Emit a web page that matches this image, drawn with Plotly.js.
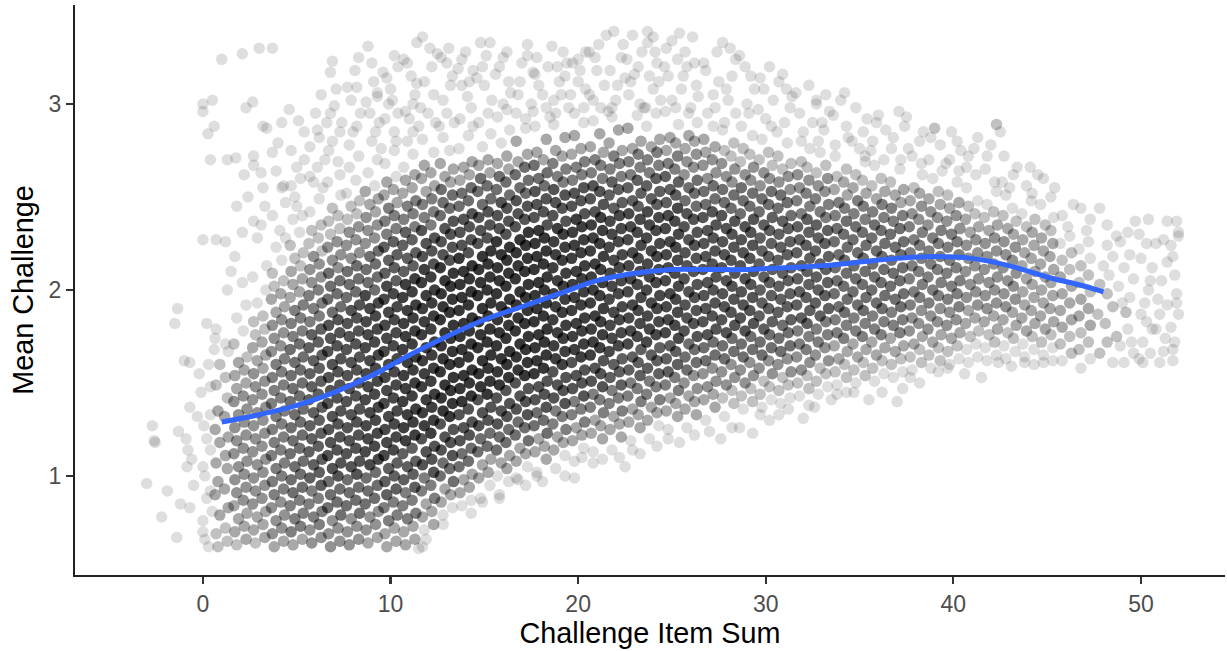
<!DOCTYPE html>
<html>
<head>
<meta charset="utf-8">
<script src="https://cdn.plot.ly/plotly-3.0.1.min.js"></script>
<style>
  html, body { margin: 0; padding: 0; background: #ffffff; }
  #chart { width: 1227px; height: 651px; }
</style>
</head>
<body>
<div id="chart"></div>
<script>
// Observations grouped by item-sum column. sumN = item sum, meanN = mean challenge,
// hitsN = how many respondents sit on top of each other at that spot.

const sumLeft = [-3.0,-2.7,-2.6,-2.55,-2.2,-1.9,-1.4,-1.3,-1.2,-0.9,-0.8,-0.85,-0.7,-0.5,-0.7,-1.35,-1.5,-1.0,-0.6,-0.7];
const meanLeft = [0.96,1.27,1.19,1.18,0.78,0.92,0.67,1.24,0.85,1.20,1.14,1.05,0.83,0.95,1.37,1.90,1.82,1.62,1.09,1.61];
const hitsLeft = [1,1,1,1,1,1,1,1,1,1,1,1,1,1,1,1,1,1,1,1];

const sum0 = [0.05,0.4,0.4,0.0,0.1,0.4,0.0,0.0,0.5,-0.3,0.0,0.0,0.5,0.27,0.6,0.4,0.0,0.3,0.2,-0.2,0.3,0.1,-0.1,0.2,0.4,0.2];
const mean0 = [1.27,1.33,1.14,1.05,1.00,0.92,0.76,0.70,0.81,1.32,3.00,2.96,3.02,2.84,2.88,2.70,2.27,1.60,1.82,1.55,0.62,0.66,1.45,1.20,1.48,0.88];
const hits0 = [1,1,1,1,1,1,1,1,1,1,1,1,1,1,1,1,1,1,1,1,1,1,1,1,1,1];

const sum1 = [0.8,1.3,0.7,1.2,0.9,1.35,0.65,1.15,0.8,1.3,0.7,1.2,0.9,1.35,0.65,1.15,0.8,1.3,0.7,1.2,0.9,1.35,0.65, 1.0,1.3,0.7,1.2,1.5,1.3,0.7,1.2,0.6];
const mean1 = [0.62,0.65,0.69,0.72,0.79,0.83,0.90,0.93,0.97,1.04,1.07,1.11,1.18,1.21,1.25,1.32,1.35,1.42,1.49,1.53,1.60,1.67,1.74, 3.24,2.70,2.27,2.26,2.10,2.00,1.79,1.71,1.68];
const hits1 = [2,2,2,2,3,3,3,3,3,3,3,3,3,3,3,3,3,2,2,2,2,1,1, 1,1,1,1,1,1,1,1,1];

const sum2 = [1.8,2.3,1.7,2.2,1.9,2.35,1.65,2.15,1.8,2.3,1.7,2.2,1.9,2.35,1.65,2.15,1.8,2.3,1.7,2.2,1.9,2.35,1.65,2.15,1.8,2.3,1.7,2.2,1.9,2.35,1.65,2.15,1.8,2.3, 2.1,2.3,1.75,2.1,2.1,2.4,1.8,1.7,2.2];
const mean2 = [0.63,0.66,0.70,0.73,0.77,0.80,0.84,0.87,0.91,0.94,0.98,1.01,1.05,1.08,1.12,1.15,1.19,1.22,1.26,1.29,1.33,1.36,1.40,1.43,1.47,1.50,1.54,1.57,1.61,1.64,1.71,1.78,1.85,1.92, 3.27,2.98,2.71,2.31,2.04,2.50,2.45,2.18,2.62];
const hits2 = [2,3,3,3,3,3,3,4,4,4,4,4,4,4,4,4,4,4,4,4,4,4,4,4,3,3,3,3,3,2,2,1,1,1, 1,1,1,1,1,1,1,1,1];

const sum3 = [2.8,3.3,2.7,3.2,2.9,3.35,2.65,3.15,2.8,3.3,2.7,3.2,2.9,3.35,2.65,3.15,2.8,3.3,2.7,3.2,2.9,3.35,2.65,3.15,2.8,3.3,2.7,3.2,2.9,3.35,2.65,3.15,2.8,3.3,2.7,3.2,2.9,3.35,2.65, 3.0,3.1,3.2,2.65,2.7,2.7,3.2,3.4,2.9,2.7,3.1,3.4,3.3];
const mean3 = [0.64,0.67,0.71,0.74,0.78,0.81,0.85,0.88,0.92,0.95,0.99,1.02,1.06,1.09,1.13,1.16,1.20,1.23,1.27,1.30,1.34,1.37,1.41,1.44,1.48,1.51,1.55,1.58,1.62,1.65,1.69,1.72,1.76,1.79,1.83,1.86,1.93,2.00,2.07, 3.30,2.63,2.55,3.01,2.72,2.67,2.88,2.87,2.28,2.37,2.35,2.13,2.45];
const hits3 = [2,3,3,3,3,3,4,4,4,4,4,4,4,4,4,4,4,4,4,4,4,4,4,4,4,4,4,3,3,3,3,3,2,2,2,2,1,1,1, 1,1,1,1,1,1,1,1,1,1,1,1,1];

const sum4 = [3.8,4.3,3.7,4.2,3.9,4.35,3.65,4.15,3.8,4.3,3.7,4.2,3.9,4.35,3.65,4.15,3.8,4.3,3.7,4.2,3.9,4.35,3.65,4.15,3.8,4.3,3.7,4.2,3.9,4.35,3.65,4.15,3.8,4.3,3.7,4.2,3.9,4.35,3.65,4.15,3.8,4.3,3.7,4.2,3.9, 3.7,3.7,3.9,4.0,4.2,4.6,4.4,4.3,4.1,3.7,4.4,4.2];
const mean4 = [0.62,0.65,0.69,0.72,0.76,0.79,0.83,0.86,0.90,0.93,0.97,1.00,1.04,1.07,1.11,1.14,1.18,1.21,1.25,1.28,1.32,1.35,1.39,1.42,1.46,1.49,1.53,1.56,1.60,1.63,1.67,1.70,1.74,1.77,1.81,1.84,1.88,1.91,1.95,1.98,2.02,2.05,2.09,2.16,2.23, 3.30,2.74,2.64,2.79,2.55,2.97,2.47,2.56,2.32,2.40,2.28,2.90];
const hits4 = [3,3,4,4,4,4,4,4,5,5,5,5,5,5,5,5,5,5,5,5,5,5,5,5,5,5,5,5,5,5,4,4,4,4,4,4,3,3,3,3,2,2,2,1,1, 1,1,1,1,1,1,1,1,1,1,1,1];

const sum5 = [4.8,5.3,4.7,5.2,4.9,5.35,4.65,5.15,4.8,5.3,4.7,5.2,4.9,5.35,4.65,5.15,4.8,5.3,4.7,5.2,4.9,5.35,4.65,5.15,4.8,5.3,4.7,5.2,4.9,5.35,4.65,5.15,4.8,5.3,4.7,5.2,4.9,5.35,4.65,5.15,4.8,5.3,4.7,5.2,4.9,5.35,4.65,5.15,4.8, 5.1,5.2,4.7,4.9,5.4,5.0,5.4,5.0,4.7,5.3];
const mean5 = [0.63,0.66,0.70,0.73,0.77,0.80,0.84,0.87,0.91,0.94,0.98,1.01,1.05,1.08,1.12,1.15,1.19,1.22,1.26,1.29,1.33,1.36,1.40,1.43,1.47,1.50,1.54,1.57,1.61,1.64,1.68,1.71,1.75,1.78,1.82,1.85,1.89,1.92,1.96,1.99,2.03,2.06,2.10,2.13,2.17,2.20,2.24,2.31,2.38, 2.91,2.60,2.75,2.50,2.70,2.45,2.85,2.66,2.56,2.40];
const hits5 = [3,3,5,5,5,5,5,5,6,6,6,6,6,6,6,6,6,6,6,6,6,6,6,6,6,6,6,6,6,6,6,6,5,5,5,5,5,5,3,3,3,3,3,2,2,2,2,1,1, 1,1,1,1,1,1,1,1,1,1];

const sum6 = [5.8,6.3,5.7,6.2,5.9,6.35,5.65,6.15,5.8,6.3,5.7,6.2,5.9,6.35,5.65,6.15,5.8,6.3,5.7,6.2,5.9,6.35,5.65,6.15,5.8,6.3,5.7,6.2,5.9,6.35,5.65,6.15,5.8,6.3,5.7,6.2,5.9,6.35,5.65,6.15,5.8,6.3,5.7,6.2,5.9,6.35,5.65,6.15,5.8,6.3,5.7,6.2, 5.7,6.1,6.6,5.7,6.1,6.0,6.4,6.3,6.5,5.9,6.2];
const mean6 = [0.64,0.67,0.71,0.74,0.78,0.81,0.85,0.88,0.92,0.95,0.99,1.02,1.06,1.09,1.13,1.16,1.20,1.23,1.27,1.30,1.34,1.37,1.41,1.44,1.48,1.51,1.55,1.58,1.62,1.65,1.69,1.72,1.76,1.79,1.83,1.86,1.90,1.93,1.97,2.00,2.04,2.07,2.11,2.14,2.18,2.21,2.25,2.28,2.32,2.35,2.42,2.49, 2.77,2.86,2.90,2.61,2.66,2.95,2.55,3.05,2.70,2.58,2.82];
const hits6 = [4,4,4,5,5,5,5,5,5,7,7,7,7,7,7,7,7,7,7,7,7,7,7,7,7,7,7,7,7,7,7,7,7,7,5,5,5,5,5,5,4,4,4,4,4,2,2,2,2,2,1,1, 1,1,1,1,1,1,1,1,1,1,1];

const sum7 = [6.8,7.3,6.7,7.2,6.9,7.35,6.65,7.15,6.8,7.3,6.7,7.2,6.9,7.35,6.65,7.15,6.8,7.3,6.7,7.2,6.9,7.35,6.65,7.15,6.8,7.3,6.7,7.2,6.9,7.35,6.65,7.15,6.8,7.3,6.7,7.2,6.9,7.35,6.65,7.15,6.8,7.3,6.7,7.2,6.9,7.35,6.65,7.15,6.8,7.3,6.7,7.2,6.9,7.35,6.65, 6.9,6.8,7.0,7.2,6.9,7.4,7.3,6.7,7.1,6.8,7.3];
const mean7 = [0.62,0.65,0.69,0.72,0.76,0.79,0.83,0.86,0.90,0.93,0.97,1.00,1.04,1.07,1.11,1.14,1.18,1.21,1.25,1.28,1.32,1.35,1.39,1.42,1.46,1.49,1.53,1.56,1.60,1.63,1.67,1.70,1.74,1.77,1.81,1.84,1.88,1.91,1.95,1.98,2.02,2.05,2.09,2.12,2.16,2.19,2.23,2.26,2.30,2.33,2.37,2.40,2.44,2.51,2.58, 3.23,3.17,2.99,2.69,2.80,2.90,2.62,2.75,3.08,2.95,2.85];
const hits7 = [4,4,4,4,4,6,6,6,6,6,6,8,8,8,8,8,8,8,8,8,8,8,8,8,8,8,8,8,8,8,8,8,8,8,8,8,6,6,6,6,6,6,6,4,4,4,4,4,2,2,2,2,2,1,1, 1,1,1,1,1,1,1,1,1,1,1];

const sum8 = [7.8,8.3,7.7,8.2,7.9,8.35,7.65,8.15,7.8,8.3,7.7,8.2,7.9,8.35,7.65,8.15,7.8,8.3,7.7,8.2,7.9,8.35,7.65,8.15,7.8,8.3,7.7,8.2,7.9,8.35,7.65,8.15,7.8,8.3,7.7,8.2,7.9,8.35,7.65,8.15,7.8,8.3,7.7,8.2,7.9,8.35,7.65,8.15,7.8,8.3,7.7,8.2,7.9,8.35,7.65,8.15,7.8, 7.7,8.2,8.0,8.4,7.8,8.1,8.3,7.9,8.2,8.3];
const mean8 = [0.63,0.66,0.70,0.73,0.77,0.80,0.84,0.87,0.91,0.94,0.98,1.01,1.05,1.08,1.12,1.15,1.19,1.22,1.26,1.29,1.33,1.36,1.40,1.43,1.47,1.50,1.54,1.57,1.61,1.64,1.68,1.71,1.75,1.78,1.82,1.85,1.89,1.92,1.96,1.99,2.03,2.06,2.10,2.13,2.17,2.20,2.24,2.27,2.31,2.34,2.38,2.41,2.45,2.48,2.52,2.59,2.66, 3.09,3.09,2.85,2.95,2.78,3.18,2.72,3.02,2.88,3.25];
const hits8 = [4,4,4,4,4,6,6,6,6,6,6,8,8,8,8,8,8,8,8,8,8,8,8,8,8,8,8,8,8,8,8,8,8,8,8,8,8,8,6,6,6,6,6,6,4,4,4,4,4,4,2,2,2,2,1,1,1, 1,1,1,1,1,1,1,1,1,1];

const sum9 = [8.8,9.3,8.7,9.2,8.9,9.35,8.65,9.15,8.8,9.3,8.7,9.2,8.9,9.35,8.65,9.15,8.8,9.3,8.7,9.2,8.9,9.35,8.65,9.15,8.8,9.3,8.7,9.2,8.9,9.35,8.65,9.15,8.8,9.3,8.7,9.2,8.9,9.35,8.65,9.15,8.8,9.3,8.7,9.2,8.9,9.35,8.65,9.15,8.8,9.3,8.7,9.2,8.9,9.35,8.65,9.15,8.8,9.3, 8.8,9.3,9.3,9.6,9.0,9.4,8.7,9.2,8.9,9.1,9.5,9.0];
const mean9 = [0.64,0.67,0.71,0.74,0.78,0.81,0.85,0.88,0.92,0.95,0.99,1.02,1.06,1.09,1.13,1.16,1.20,1.23,1.27,1.30,1.34,1.37,1.41,1.44,1.48,1.51,1.55,1.58,1.62,1.65,1.69,1.72,1.76,1.79,1.83,1.86,1.90,1.93,1.97,2.00,2.04,2.07,2.11,2.14,2.18,2.21,2.25,2.28,2.32,2.35,2.39,2.42,2.46,2.49,2.53,2.56,2.63,2.70, 3.31,3.06,3.04,3.17,2.80,2.90,3.01,2.85,2.95,3.12,2.76,3.22];
const hits9 = [3,3,4,4,4,4,6,6,6,6,6,6,9,9,9,9,9,9,9,9,9,9,9,9,9,9,9,9,9,9,9,9,9,9,9,9,9,9,9,6,6,6,6,6,6,6,4,4,4,4,4,3,3,3,3,1,1,1, 1,1,1,1,1,1,1,1,1,1,1,1];

const sum10 = [9.8,10.3,9.7,10.2,9.9,10.35,9.65,10.15,9.8,10.3,9.7,10.2,9.9,10.35,9.65,10.15,9.8,10.3,9.7,10.2,9.9,10.35,9.65,10.15,9.8,10.3,9.7,10.2,9.9,10.35,9.65,10.15,9.8,10.3,9.7,10.2,9.9,10.35,9.65,10.15,9.8,10.3,9.7,10.2,9.9,10.35,9.65,10.15,9.8,10.3,9.7,10.2,9.9,10.35,9.65,10.15,9.8,10.3,9.7,10.2, 10.0,10.1,10.4,10.2,10.4,9.7,9.8,10.3,9.9,10.2];
const mean10 = [0.62,0.65,0.69,0.72,0.76,0.79,0.83,0.86,0.90,0.93,0.97,1.00,1.04,1.07,1.11,1.14,1.18,1.21,1.25,1.28,1.32,1.35,1.39,1.42,1.46,1.49,1.53,1.56,1.60,1.63,1.67,1.70,1.74,1.77,1.81,1.84,1.88,1.91,1.95,1.98,2.02,2.05,2.09,2.12,2.16,2.19,2.23,2.26,2.30,2.33,2.37,2.40,2.44,2.47,2.51,2.54,2.58,2.61,2.68,2.75, 3.08,3.02,2.95,2.85,3.20,2.92,3.14,2.80,3.00,3.26];
const hits10 = [3,3,3,3,5,5,5,5,7,7,7,7,7,7,9,9,9,9,9,9,9,9,9,9,9,9,9,9,9,9,9,9,9,9,9,9,9,9,9,9,9,7,7,7,7,7,7,7,5,5,5,5,5,3,3,3,3,1,1,1, 1,1,1,1,1,1,1,1,1,1];

const sum11 = [10.8,11.3,10.7,11.2,10.9,11.35,10.65,11.15,10.8,11.3,10.7,11.2,10.9,11.35,10.65,11.15,10.8,11.3,10.7,11.2,10.9,11.35,10.65,11.15,10.8,11.3,10.7,11.2,10.9,11.35,10.65,11.15,10.8,11.3,10.7,11.2,10.9,11.35,10.65,11.15,10.8,11.3,10.7,11.2,10.9,11.35,10.65,11.15,10.8,11.3,10.7,11.2,10.9,11.35,10.65,11.15,10.8,11.3,10.7,11.2,10.9, 11.5,10.7,10.9,11.4,11.4,11.2,11.0,11.2,11.1,10.8,11.3,11.5];
const mean11 = [0.63,0.66,0.70,0.73,0.77,0.80,0.84,0.87,0.91,0.94,0.98,1.01,1.05,1.08,1.12,1.15,1.19,1.22,1.26,1.29,1.33,1.36,1.40,1.43,1.47,1.50,1.54,1.57,1.61,1.64,1.68,1.71,1.75,1.78,1.82,1.85,1.89,1.92,1.96,1.99,2.03,2.06,2.10,2.13,2.17,2.20,2.24,2.27,2.31,2.34,2.38,2.41,2.45,2.48,2.52,2.55,2.59,2.62,2.66,2.73,2.80, 0.61,3.24,3.22,3.33,3.11,3.00,2.92,2.85,3.15,2.96,3.05,2.88];
const hits11 = [3,3,3,3,5,5,5,5,5,7,7,7,7,7,7,7,10,10,10,10,10,10,10,10,10,10,10,10,10,10,10,10,10,10,10,10,10,10,10,10,10,10,7,7,7,7,7,7,7,5,5,5,5,5,3,3,3,3,1,1,1, 1,1,1,1,1,1,1,1,1,1,1,1];

const sum12 = [11.8,12.3,11.7,12.2,11.9,12.35,11.65,12.15,11.8,12.3,11.7,12.2,11.9,12.35,11.65,12.15,11.8,12.3,11.7,12.2,11.9,12.35,11.65,12.15,11.8,12.3,11.7,12.2,11.9,12.35,11.65,12.15,11.8,12.3,11.7,12.2,11.9,12.35,11.65,12.15,11.8,12.3,11.7,12.2,11.9,12.35,11.65,12.15,11.8,12.3,11.7,12.2,11.9,12.35,11.65,12.15,11.8,12.3,11.7, 11.7,12.5,12.2,12.0,12.3,11.9,11.7,11.8,12.4,12.1,11.6];
const mean12 = [0.71,0.74,0.78,0.81,0.85,0.88,0.92,0.95,0.99,1.02,1.06,1.09,1.13,1.16,1.20,1.23,1.27,1.30,1.34,1.37,1.41,1.44,1.48,1.51,1.55,1.58,1.62,1.65,1.69,1.72,1.76,1.79,1.83,1.86,1.90,1.93,1.97,2.00,2.04,2.07,2.11,2.14,2.18,2.21,2.25,2.28,2.32,2.35,2.39,2.42,2.46,2.49,2.53,2.56,2.60,2.63,2.67,2.74,2.81, 3.36,3.27,3.20,2.95,3.05,0.66,0.62,3.12,2.90,3.30,2.98];
const hits12 = [1,3,3,3,3,5,5,5,5,8,8,8,8,8,8,10,10,10,10,10,10,10,10,10,10,10,10,10,10,10,10,10,10,10,10,10,10,10,10,10,10,8,8,8,8,8,8,5,5,5,5,5,3,3,3,3,3,1,1, 1,1,1,1,1,1,1,1,1,1,1];

const sum13 = [12.8,13.3,12.7,13.2,12.9,13.35,12.65,13.15,12.8,13.3,12.7,13.2,12.9,13.35,12.65,13.15,12.8,13.3,12.7,13.2,12.9,13.35,12.65,13.15,12.8,13.3,12.7,13.2,12.9,13.35,12.65,13.15,12.8,13.3,12.7,13.2,12.9,13.35,12.65,13.15,12.8,13.3,12.7,13.2,12.9,13.35,12.65,13.15,12.8,13.3,12.7,13.2,12.9,13.35,12.65,13.15,12.8, 13.6,12.7,13.2,13.0,13.1,12.8,13.4,12.8,13.3,12.6,13.0];
const mean13 = [0.79,0.83,0.86,0.90,0.93,0.97,1.00,1.04,1.07,1.11,1.14,1.18,1.21,1.25,1.28,1.32,1.35,1.39,1.42,1.46,1.49,1.53,1.56,1.60,1.63,1.67,1.70,1.74,1.77,1.81,1.84,1.88,1.91,1.95,1.98,2.02,2.05,2.09,2.12,2.16,2.19,2.23,2.26,2.30,2.33,2.37,2.40,2.44,2.47,2.51,2.54,2.58,2.61,2.65,2.68,2.75,2.82, 3.19,3.25,3.10,2.95,3.30,0.74,2.90,3.02,3.15,2.88,3.22];
const hits13 = [1,1,3,3,3,6,6,6,6,8,8,8,8,8,8,11,11,11,11,11,11,11,11,11,11,11,11,11,11,11,11,11,11,11,11,11,11,11,11,8,8,8,8,8,8,8,6,6,6,6,6,3,3,3,3,1,1, 1,1,1,1,1,1,1,1,1,1,1];

const sum14 = [13.8,14.3,13.7,14.2,13.9,14.35,13.65,14.15,13.8,14.3,13.7,14.2,13.9,14.35,13.65,14.15,13.8,14.3,13.7,14.2,13.9,14.35,13.65,14.15,13.8,14.3,13.7,14.2,13.9,14.35,13.65,14.15,13.8,14.3,13.7,14.2,13.9,14.35,13.65,14.15,13.8,14.3,13.7,14.2,13.9,14.35,13.65,14.15,13.8,14.3,13.7,14.2,13.9,14.35,13.65,14.15, 14.0,13.8,14.3,14.4,14.3,13.7,14.1,13.8,14.4,14.2];
const mean14 = [0.84,0.87,0.91,0.94,0.98,1.01,1.05,1.08,1.12,1.15,1.19,1.22,1.26,1.29,1.33,1.36,1.40,1.43,1.47,1.50,1.54,1.57,1.61,1.64,1.68,1.71,1.75,1.78,1.82,1.85,1.89,1.92,1.96,1.99,2.03,2.06,2.10,2.13,2.17,2.20,2.24,2.27,2.31,2.34,2.38,2.41,2.45,2.48,2.52,2.55,2.59,2.62,2.66,2.69,2.76,2.83, 3.28,3.10,2.98,3.18,0.80,2.92,3.04,3.24,2.88,3.12];
const hits14 = [1,1,3,3,3,3,6,6,6,6,8,8,8,8,8,8,11,11,11,11,11,11,11,11,11,11,11,11,11,11,11,11,11,11,11,11,11,11,11,8,8,8,8,8,8,8,6,6,6,6,3,3,3,3,1,1, 1,1,1,1,1,1,1,1,1,1];

const sum15 = [14.8,15.3,14.7,15.2,14.9,15.35,14.65,15.15,14.8,15.3,14.7,15.2,14.9,15.35,14.65,15.15,14.8,15.3,14.7,15.2,14.9,15.35,14.65,15.15,14.8,15.3,14.7,15.2,14.9,15.35,14.65,15.15,14.8,15.3,14.7,15.2,14.9,15.35,14.65,15.15,14.8,15.3,14.7,15.2,14.9,15.35,14.65,15.15,14.8,15.3,14.7,15.2,14.9,15.35, 14.8,15.3,15.0,15.2,14.9,14.9,15.4,14.7,15.1,14.6];
const mean15 = [0.88,0.95,0.99,1.02,1.06,1.09,1.13,1.16,1.20,1.23,1.27,1.30,1.34,1.37,1.41,1.44,1.48,1.51,1.55,1.58,1.62,1.65,1.69,1.72,1.76,1.79,1.83,1.86,1.90,1.93,1.97,2.00,2.04,2.07,2.11,2.14,2.18,2.21,2.25,2.28,2.32,2.35,2.39,2.42,2.46,2.49,2.53,2.56,2.60,2.63,2.67,2.70,2.77,2.84, 3.33,3.33,3.10,2.95,3.20,0.86,3.02,2.90,3.26,3.14];
const hits15 = [1,1,3,3,3,3,6,6,6,6,8,8,8,8,8,11,11,11,11,11,11,11,11,11,11,11,11,11,11,11,11,11,11,11,11,11,11,11,8,8,8,8,8,8,6,6,6,6,6,3,3,3,1,1, 1,1,1,1,1,1,1,1,1,1];

const sum16 = [15.8,16.3,15.7,16.2,15.9,16.35,15.65,16.15,15.8,16.3,15.7,16.2,15.9,16.35,15.65,16.15,15.8,16.3,15.7,16.2,15.9,16.35,15.65,16.15,15.8,16.3,15.7,16.2,15.9,16.35,15.65,16.15,15.8,16.3,15.7,16.2,15.9,16.35,15.65,16.15,15.8,16.3,15.7,16.2,15.9,16.35,15.65,16.15,15.8,16.3,15.7,16.2,15.9,16.35, 16.2,15.8,16.0,16.3,15.8,15.7,16.4,16.0,16.2,15.6];
const mean16 = [0.90,0.97,1.00,1.04,1.07,1.11,1.14,1.18,1.21,1.25,1.28,1.32,1.35,1.39,1.42,1.46,1.49,1.53,1.56,1.60,1.63,1.67,1.70,1.74,1.77,1.81,1.84,1.88,1.91,1.95,1.98,2.02,2.05,2.09,2.12,2.16,2.19,2.23,2.26,2.30,2.33,2.37,2.40,2.44,2.47,2.51,2.54,2.58,2.61,2.65,2.68,2.72,2.79,2.86, 3.28,3.20,3.00,3.12,0.88,2.93,3.06,3.25,2.97,3.16];
const hits16 = [1,1,1,3,3,3,6,6,6,6,8,8,8,8,8,8,11,11,11,11,11,11,11,11,11,11,11,11,11,11,11,11,11,11,11,11,11,11,11,8,8,8,8,8,8,6,6,6,6,3,3,3,1,1, 1,1,1,1,1,1,1,1,1,1];

const sum17 = [16.8,17.3,16.7,17.2,16.9,17.35,16.65,17.15,16.8,17.3,16.7,17.2,16.9,17.35,16.65,17.15,16.8,17.3,16.7,17.2,16.9,17.35,16.65,17.15,16.8,17.3,16.7,17.2,16.9,17.35,16.65,17.15,16.8,17.3,16.7,17.2,16.9,17.35,16.65,17.15,16.8,17.3,16.7,17.2,16.9,17.35,16.65,17.15,16.8,17.3,16.7,17.2, 17.3,17.3,17.6,16.8,17.2,16.7,17.2,17.5,16.9,16.7,17.0];
const mean17 = [0.98,1.05,1.08,1.12,1.15,1.19,1.22,1.26,1.29,1.33,1.36,1.40,1.43,1.47,1.50,1.54,1.57,1.61,1.64,1.68,1.71,1.75,1.78,1.82,1.85,1.89,1.92,1.96,1.99,2.03,2.06,2.10,2.13,2.17,2.20,2.24,2.27,2.31,2.34,2.38,2.41,2.45,2.48,2.52,2.55,2.59,2.62,2.66,2.69,2.73,2.80,2.87, 3.32,3.26,3.17,3.05,2.92,0.99,0.95,3.00,3.12,2.95,3.22];
const hits17 = [1,1,3,3,3,6,6,6,6,8,8,8,8,8,8,11,11,11,11,11,11,11,11,11,11,11,11,11,11,11,11,11,11,11,11,11,11,11,8,8,8,8,8,6,6,6,6,6,3,3,3,1, 1,1,1,1,1,1,1,1,1,1,1];

const sum18 = [17.8,18.3,17.7,18.2,17.9,18.35,17.65,18.15,17.8,18.3,17.7,18.2,17.9,18.35,17.65,18.15,17.8,18.3,17.7,18.2,17.9,18.35,17.65,18.15,17.8,18.3,17.7,18.2,17.9,18.35,17.65,18.15,17.8,18.3,17.7,18.2,17.9,18.35,17.65,18.15,17.8,18.3,17.7,18.2,17.9,18.35,17.65,18.15,17.8,18.3,17.7, 18.6,18.4,17.9,18.3,17.8,18.1,17.8,18.5,18.1,17.7,17.6];
const mean18 = [1.02,1.09,1.13,1.16,1.20,1.23,1.27,1.30,1.34,1.37,1.41,1.44,1.48,1.51,1.55,1.58,1.62,1.65,1.69,1.72,1.76,1.79,1.83,1.86,1.90,1.93,1.97,2.00,2.04,2.07,2.11,2.14,2.18,2.21,2.25,2.28,2.32,2.35,2.39,2.42,2.46,2.49,2.53,2.56,2.60,2.63,2.67,2.70,2.74,2.81,2.88, 3.31,3.20,3.10,2.98,3.25,0.97,1.00,2.93,3.05,3.16,2.96];
const hits18 = [1,3,3,3,3,6,6,6,6,8,8,8,8,8,11,11,11,11,11,11,11,11,11,11,11,11,11,11,11,11,11,11,11,11,11,11,11,8,8,8,8,8,8,6,6,6,6,3,3,3,1, 1,1,1,1,1,1,1,1,1,1,1];

const sum19 = [18.8,19.3,18.7,19.2,18.9,19.35,18.65,19.15,18.8,19.3,18.7,19.2,18.9,19.35,18.65,19.15,18.8,19.3,18.7,19.2,18.9,19.35,18.65,19.15,18.8,19.3,18.7,19.2,18.9,19.35,18.65,19.15,18.8,19.3,18.7,19.2,18.9,19.35,18.65,19.15,18.8,19.3,18.7,19.2,18.9,19.35,18.65,19.15,18.8,19.3,18.7, 18.9,19.4,19.1,18.8,19.3,19.0,19.5,19.2,18.7,19.3];
const mean19 = [1.04,1.11,1.14,1.18,1.21,1.25,1.28,1.32,1.35,1.39,1.42,1.46,1.49,1.53,1.56,1.60,1.63,1.67,1.70,1.74,1.77,1.81,1.84,1.88,1.91,1.95,1.98,2.02,2.05,2.09,2.12,2.16,2.19,2.23,2.26,2.30,2.33,2.37,2.40,2.44,2.47,2.51,2.54,2.58,2.61,2.65,2.68,2.72,2.75,2.82,2.89, 3.20,3.22,3.05,2.95,1.00,3.12,2.98,3.28,3.02,3.15];
const hits19 = [1,1,3,3,3,5,5,5,5,8,8,8,8,8,8,10,10,10,10,10,10,10,10,10,10,10,10,10,10,10,10,10,10,10,10,10,10,8,8,8,8,8,8,5,5,5,5,3,3,3,1, 1,1,1,1,1,1,1,1,1,1];

const sum20 = [19.8,20.3,19.7,20.2,19.9,20.35,19.65,20.15,19.8,20.3,19.7,20.2,19.9,20.35,19.65,20.15,19.8,20.3,19.7,20.2,19.9,20.35,19.65,20.15,19.8,20.3,19.7,20.2,19.9,20.35,19.65,20.15,19.8,20.3,19.7,20.2,19.9,20.35,19.65,20.15,19.8,20.3,19.7,20.2,19.9,20.35,19.65,20.15,19.8,20.3, 19.7,20.4,20.0,20.3,19.8,20.2,19.6,20.1,19.8,20.0,20.4];
const mean20 = [1.08,1.15,1.19,1.22,1.26,1.29,1.33,1.36,1.40,1.43,1.47,1.50,1.54,1.57,1.61,1.64,1.68,1.71,1.75,1.78,1.82,1.85,1.89,1.92,1.96,1.99,2.03,2.06,2.10,2.13,2.17,2.20,2.24,2.27,2.31,2.34,2.38,2.41,2.45,2.48,2.52,2.55,2.59,2.62,2.66,2.69,2.73,2.76,2.83,2.90, 3.22,3.28,3.12,2.98,0.99,1.10,3.05,3.18,2.95,3.24,3.08];
const hits20 = [1,1,3,3,3,5,5,5,5,8,8,8,8,8,8,10,10,10,10,10,10,10,10,10,10,10,10,10,10,10,10,10,10,10,10,10,10,8,8,8,8,8,5,5,5,5,3,3,3,1, 1,1,1,1,1,1,1,1,1,1,1];

const sum21 = [20.8,21.3,20.7,21.2,20.9,21.35,20.65,21.15,20.8,21.3,20.7,21.2,20.9,21.35,20.65,21.15,20.8,21.3,20.7,21.2,20.9,21.35,20.65,21.15,20.8,21.3,20.7,21.2,20.9,21.35,20.65,21.15,20.8,21.3,20.7,21.2,20.9,21.35,20.65,21.15,20.8,21.3,20.7,21.2,20.9,21.35,20.65,21.15,20.8, 20.6,21.5,21.0,20.8,21.3,20.8,21.4,20.9,21.2,21.1,20.6];
const mean21 = [1.13,1.20,1.23,1.27,1.30,1.34,1.37,1.41,1.44,1.48,1.51,1.55,1.58,1.62,1.65,1.69,1.72,1.76,1.79,1.83,1.86,1.90,1.93,1.97,2.00,2.04,2.07,2.11,2.14,2.18,2.21,2.25,2.28,2.32,2.35,2.39,2.42,2.46,2.49,2.53,2.56,2.60,2.63,2.67,2.70,2.74,2.77,2.84,2.91, 3.28,3.37,3.18,3.02,1.09,1.07,3.10,3.25,2.98,3.32,3.05];
const hits21 = [1,3,3,3,3,5,5,5,5,8,8,8,8,8,10,10,10,10,10,10,10,10,10,10,10,10,10,10,10,10,10,10,10,10,10,10,8,8,8,8,8,5,5,5,5,3,3,3,1, 1,1,1,1,1,1,1,1,1,1,1];

const sum22 = [21.8,22.3,21.7,22.2,21.9,22.35,21.65,22.15,21.8,22.3,21.7,22.2,21.9,22.35,21.65,22.15,21.8,22.3,21.7,22.2,21.9,22.35,21.65,22.15,21.8,22.3,21.7,22.2,21.9,22.35,21.65,22.15,21.8,22.3,21.7,22.2,21.9,22.35,21.65,22.15,21.8,22.3,21.7,22.2,21.9,22.35,21.65,22.15,21.8, 21.9,22.3,22.1,21.8,22.5,22.2,21.7,22.4,22.0,22.5,21.6];
const mean22 = [1.14,1.21,1.25,1.28,1.32,1.35,1.39,1.42,1.46,1.49,1.53,1.56,1.60,1.63,1.67,1.70,1.74,1.77,1.81,1.84,1.88,1.91,1.95,1.98,2.02,2.05,2.09,2.12,2.16,2.19,2.23,2.26,2.30,2.33,2.37,2.40,2.44,2.47,2.51,2.54,2.58,2.61,2.65,2.68,2.72,2.75,2.79,2.86,2.93, 3.39,3.25,3.10,2.98,1.05,1.10,3.18,3.32,3.02,3.14,2.96];
const hits22 = [1,3,3,3,3,5,5,5,5,7,7,7,7,7,9,9,9,9,9,9,9,9,9,9,9,9,9,9,9,9,9,9,9,9,9,9,7,7,7,7,7,5,5,5,5,3,3,3,1, 1,1,1,1,1,1,1,1,1,1,1];

const sum23 = [22.8,23.3,22.7,23.2,22.9,23.35,22.65,23.15,22.8,23.3,22.7,23.2,22.9,23.35,22.65,23.15,22.8,23.3,22.7,23.2,22.9,23.35,22.65,23.15,22.8,23.3,22.7,23.2,22.9,23.35,22.65,23.15,22.8,23.3,22.7,23.2,22.9,23.35,22.65,23.15,22.8,23.3,22.7,23.2,22.9,23.35,22.65,23.15, 22.9,23.2,22.8,23.3,22.9,23.3,23.4,22.7,23.0,23.5,22.6];
const mean23 = [1.19,1.26,1.29,1.33,1.36,1.40,1.43,1.47,1.50,1.54,1.57,1.61,1.64,1.68,1.71,1.75,1.78,1.82,1.85,1.89,1.92,1.96,1.99,2.03,2.06,2.10,2.13,2.17,2.20,2.24,2.27,2.31,2.34,2.38,2.41,2.45,2.48,2.52,2.55,2.59,2.62,2.66,2.69,2.73,2.76,2.80,2.87,2.94, 3.37,3.20,3.12,3.00,1.14,1.12,3.28,3.05,3.16,2.98,3.24];
const hits23 = [1,3,3,3,3,5,5,5,5,7,7,7,7,7,9,9,9,9,9,9,9,9,9,9,9,9,9,9,9,9,9,9,9,9,9,7,7,7,7,7,5,5,5,5,3,3,3,1, 1,1,1,1,1,1,1,1,1,1,1];

const sum24 = [23.8,24.3,23.7,24.2,23.9,24.35,23.65,24.15,23.8,24.3,23.7,24.2,23.9,24.35,23.65,24.15,23.8,24.3,23.7,24.2,23.9,24.35,23.65,24.15,23.8,24.3,23.7,24.2,23.9,24.35,23.65,24.15,23.8,24.3,23.7,24.2,23.9,24.35,23.65,24.15,23.8,24.3,23.7,24.2,23.9,24.35,23.65,24.15, 23.7,23.7,24.2,24.0,24.2,24.4,23.8,24.1,23.6,24.3,24.0];
const mean24 = [1.20,1.27,1.30,1.34,1.37,1.41,1.44,1.48,1.51,1.55,1.58,1.62,1.65,1.69,1.72,1.76,1.79,1.83,1.86,1.90,1.93,1.97,2.00,2.04,2.07,2.11,2.14,2.18,2.21,2.25,2.28,2.32,2.35,2.39,2.42,2.46,2.49,2.53,2.56,2.60,2.63,2.67,2.70,2.74,2.77,2.81,2.88,2.95, 3.39,3.33,3.22,3.08,1.16,3.02,3.15,3.28,2.98,3.12,3.36];
const hits24 = [1,1,3,3,3,5,5,5,5,7,7,7,7,7,9,9,9,9,9,9,9,9,9,9,9,9,9,9,9,9,9,9,9,9,9,7,7,7,7,7,5,5,5,5,3,3,1,1, 1,1,1,1,1,1,1,1,1,1,1];

const sum25 = [24.8,25.3,24.7,25.2,24.9,25.35,24.65,25.15,24.8,25.3,24.7,25.2,24.9,25.35,24.65,25.15,24.8,25.3,24.7,25.2,24.9,25.35,24.65,25.15,24.8,25.3,24.7,25.2,24.9,25.35,24.65,25.15,24.8,25.3,24.7,25.2,24.9,25.35,24.65,25.15,24.8,25.3,24.7,25.2,24.9,25.35,24.65, 25.4,25.3,24.8,25.0,25.4,24.8,24.7,25.5,25.2,24.6,25.0];
const mean25 = [1.25,1.32,1.35,1.39,1.42,1.46,1.49,1.53,1.56,1.60,1.63,1.67,1.70,1.74,1.77,1.81,1.84,1.88,1.91,1.95,1.98,2.02,2.05,2.09,2.12,2.16,2.19,2.23,2.26,2.30,2.33,2.37,2.40,2.44,2.47,2.51,2.54,2.58,2.61,2.65,2.68,2.72,2.75,2.79,2.82,2.89,2.96, 3.38,3.24,3.15,3.02,1.18,1.20,3.30,3.08,2.98,3.20,3.34];
const hits25 = [1,3,3,3,3,5,5,5,7,7,7,7,7,9,9,9,9,9,9,9,9,9,9,9,9,9,9,9,9,9,9,9,9,9,7,7,7,7,7,5,5,5,3,3,3,1,1, 1,1,1,1,1,1,1,1,1,1,1];

const sum26 = [25.8,26.3,25.7,26.2,25.9,26.35,25.65,26.15,25.8,26.3,25.7,26.2,25.9,26.35,25.65,26.15,25.8,26.3,25.7,26.2,25.9,26.35,25.65,26.15,25.8,26.3,25.7,26.2,25.9,26.35,25.65,26.15,25.8,26.3,25.7,26.2,25.9,26.35,25.65,26.15,25.8,26.3,25.7,26.2,25.9,26.35, 26.1,25.8,26.3,26.0,26.2,25.7,26.4,25.6,25.9,26.2];
const mean26 = [1.26,1.33,1.36,1.40,1.43,1.47,1.50,1.54,1.57,1.61,1.64,1.68,1.71,1.75,1.78,1.82,1.85,1.89,1.92,1.96,1.99,2.03,2.06,2.10,2.13,2.17,2.20,2.24,2.27,2.31,2.34,2.38,2.41,2.45,2.48,2.52,2.55,2.59,2.62,2.66,2.69,2.73,2.76,2.80,2.83,2.90, 3.36,3.20,3.10,2.98,1.22,3.28,3.04,3.15,2.95,3.22];
const hits26 = [1,3,3,3,3,4,4,4,6,6,6,6,6,8,8,8,8,8,8,8,8,8,8,8,8,8,8,8,8,8,8,8,8,6,6,6,6,6,4,4,4,4,3,3,3,1, 1,1,1,1,1,1,1,1,1,1];

const sum27 = [26.8,27.3,26.7,27.2,26.9,27.35,26.65,27.15,26.8,27.3,26.7,27.2,26.9,27.35,26.65,27.15,26.8,27.3,26.7,27.2,26.9,27.35,26.65,27.15,26.8,27.3,26.7,27.2,26.9,27.35,26.65,27.15,26.8,27.3,26.7,27.2,26.9,27.35,26.65,27.15,26.8,27.3,26.7,27.2, 27.4,26.8,27.2,26.9,27.0,27.7,27.5,27.3,26.7];
const mean27 = [1.30,1.37,1.41,1.44,1.48,1.51,1.55,1.58,1.62,1.65,1.69,1.72,1.76,1.79,1.83,1.86,1.90,1.93,1.97,2.00,2.04,2.07,2.11,2.14,2.18,2.21,2.25,2.28,2.32,2.35,2.39,2.42,2.46,2.49,2.53,2.56,2.60,2.63,2.67,2.70,2.74,2.77,2.81,2.88, 3.28,3.18,3.05,2.95,1.24,3.33,3.12,2.98,3.22];
const hits27 = [1,3,3,3,4,4,4,4,6,6,6,6,8,8,8,8,8,8,8,8,8,8,8,8,8,8,8,8,8,8,8,8,6,6,6,6,4,4,4,4,3,3,3,1, 1,1,1,1,1,1,1,1,1];

const sum28 = [27.8,28.3,27.7,28.2,27.9,28.35,27.65,28.15,27.8,28.3,27.7,28.2,27.9,28.35,27.65,28.15,27.8,28.3,27.7,28.2,27.9,28.35,27.65,28.15,27.8,28.3,27.7,28.2,27.9,28.35,27.65,28.15,27.8,28.3,27.7,28.2,27.9,28.35,27.65,28.15,27.8,28.3,27.7, 28.2,28.0,27.8,27.6,28.2,28.4,27.9,28.4,28.1];
const mean28 = [1.32,1.39,1.42,1.46,1.49,1.53,1.56,1.60,1.63,1.67,1.70,1.74,1.77,1.81,1.84,1.88,1.91,1.95,1.98,2.02,2.05,2.09,2.12,2.16,2.19,2.23,2.26,2.30,2.33,2.37,2.40,2.44,2.47,2.51,2.54,2.58,2.61,2.65,2.68,2.72,2.75,2.79,2.86, 3.15,3.02,2.90,1.20,1.26,3.24,3.08,2.95,3.30];
const hits28 = [1,2,2,2,4,4,4,4,6,6,6,6,8,8,8,8,8,8,8,8,8,8,8,8,8,8,8,8,8,8,8,6,6,6,6,4,4,4,4,2,2,2,1, 1,1,1,1,1,1,1,1,1];

const sum29 = [28.8,29.3,28.7,29.2,28.9,29.35,28.65,29.15,28.8,29.3,28.7,29.2,28.9,29.35,28.65,29.15,28.8,29.3,28.7,29.2,28.9,29.35,28.65,29.15,28.8,29.3,28.7,29.2,28.9,29.35,28.65,29.15,28.8,29.3,28.7,29.2,28.9,29.35,28.65,29.15,28.8,29.3, 28.6,29.2,29.0,28.7,28.6,29.3,29.4,29.1,28.9];
const mean29 = [1.36,1.40,1.43,1.47,1.50,1.54,1.57,1.61,1.64,1.68,1.71,1.75,1.78,1.82,1.85,1.89,1.92,1.96,1.99,2.03,2.06,2.10,2.13,2.17,2.20,2.24,2.27,2.31,2.34,2.38,2.41,2.45,2.48,2.52,2.55,2.59,2.62,2.66,2.69,2.73,2.76,2.83, 3.26,3.15,3.00,2.88,1.26,1.23,3.08,2.95,3.20];
const hits29 = [1,2,2,2,4,4,4,4,6,6,6,6,8,8,8,8,8,8,8,8,8,8,8,8,8,8,8,8,8,8,6,6,6,6,6,4,4,4,2,2,2,1, 1,1,1,1,1,1,1,1,1];

const sum30 = [29.8,30.3,29.7,30.2,29.9,30.35,29.65,30.15,29.8,30.3,29.7,30.2,29.9,30.35,29.65,30.15,29.8,30.3,29.7,30.2,29.9,30.35,29.65,30.15,29.8,30.3,29.7,30.2,29.9,30.35,29.65,30.15,29.8,30.3,29.7,30.2,29.9,30.35,29.65,30.15,29.8, 29.9,30.2,30.0,30.2,29.7,30.4,29.7,30.3,29.6];
const mean30 = [1.37,1.41,1.44,1.48,1.51,1.55,1.58,1.62,1.65,1.69,1.72,1.76,1.79,1.83,1.86,1.90,1.93,1.97,2.00,2.04,2.07,2.11,2.14,2.18,2.21,2.25,2.28,2.32,2.35,2.39,2.42,2.46,2.49,2.53,2.56,2.60,2.63,2.67,2.70,2.74,2.81, 3.08,3.20,2.92,1.30,1.33,3.02,3.14,2.88,2.97];
const hits30 = [1,1,2,2,2,4,4,4,6,6,6,6,7,7,7,7,7,7,7,7,7,7,7,7,7,7,7,7,7,7,6,6,6,6,4,4,4,2,2,2,1, 1,1,1,1,1,1,1,1,1];

const sum31 = [30.8,31.3,30.7,31.2,30.9,31.35,30.65,31.15,30.8,31.3,30.7,31.2,30.9,31.35,30.65,31.15,30.8,31.3,30.7,31.2,30.9,31.35,30.65,31.15,30.8,31.3,30.7,31.2,30.9,31.35,30.65,31.15,30.8,31.3,30.7,31.2,30.9,31.35,30.65,31.15, 31.4,30.7,31.0,30.7,31.2,31.3,31.1,30.6,30.9];
const mean31 = [1.39,1.42,1.46,1.49,1.53,1.56,1.60,1.63,1.67,1.70,1.74,1.77,1.81,1.84,1.88,1.91,1.95,1.98,2.02,2.05,2.09,2.12,2.16,2.19,2.23,2.26,2.30,2.33,2.37,2.40,2.44,2.47,2.51,2.54,2.58,2.61,2.65,2.68,2.72,2.79, 3.04,3.12,2.90,1.33,1.36,2.98,3.08,2.85,3.16];
const hits31 = [1,1,2,2,2,4,4,4,6,6,6,6,6,7,7,7,7,7,7,7,7,7,7,7,7,7,7,7,7,6,6,6,6,4,4,4,2,2,2,1, 1,1,1,1,1,1,1,1,1];

const sum32 = [31.8,32.3,31.7,32.2,31.9,32.35,31.65,32.15,31.8,32.3,31.7,32.2,31.9,32.35,31.65,32.15,31.8,32.3,31.7,32.2,31.9,32.35,31.65,32.15,31.8,32.3,31.7,32.2,31.9,32.35,31.65,32.15,31.8,32.3,31.7,32.2,31.9,32.35, 32.3,32.7,32.0,31.8,32.0,32.3,31.6,32.5,31.9];
const mean32 = [1.43,1.47,1.50,1.54,1.57,1.61,1.64,1.68,1.71,1.75,1.78,1.82,1.85,1.89,1.92,1.96,1.99,2.03,2.06,2.10,2.13,2.17,2.20,2.24,2.27,2.31,2.34,2.38,2.41,2.45,2.48,2.52,2.55,2.59,2.62,2.66,2.69,2.76, 3.10,3.02,2.85,2.95,1.31,1.38,3.06,2.90,2.80];
const hits32 = [1,2,2,2,4,4,4,5,5,5,5,7,7,7,7,7,7,7,7,7,7,7,7,7,7,7,7,7,5,5,5,5,4,4,4,2,2,1, 1,1,1,1,1,1,1,1,1];

const sum33 = [32.8,33.3,32.7,33.2,32.9,33.35,32.65,33.15,32.8,33.3,32.7,33.2,32.9,33.35,32.65,33.15,32.8,33.3,32.7,33.2,32.9,33.35,32.65,33.15,32.8,33.3,32.7,33.2,32.9,33.35,32.65,33.15,32.8,33.3,32.7,33.2,32.9, 33.2,33.0,32.8,32.6,33.5,33.4,33.1,32.7];
const mean33 = [1.44,1.48,1.51,1.55,1.58,1.62,1.65,1.69,1.72,1.76,1.79,1.83,1.86,1.90,1.93,1.97,2.00,2.04,2.07,2.11,2.14,2.18,2.21,2.25,2.28,2.32,2.35,2.39,2.42,2.46,2.49,2.53,2.56,2.60,2.63,2.67,2.74, 3.05,2.90,2.80,1.37,1.41,2.96,2.86,3.00];
const hits33 = [1,1,2,2,2,4,4,4,5,5,5,5,7,7,7,7,7,7,7,7,7,7,7,7,7,7,7,5,5,5,5,4,4,4,2,2,1, 1,1,1,1,1,1,1,1];

const sum34 = [33.8,34.3,33.7,34.2,33.9,34.35,33.65,34.15,33.8,34.3,33.7,34.2,33.9,34.35,33.65,34.15,33.8,34.3,33.7,34.2,33.9,34.35,33.65,34.15,33.8,34.3,33.7,34.2,33.9,34.35,33.65,34.15,33.8,34.3,33.7, 34.0,34.3,33.7,34.3,33.8,33.6,34.4,34.2];
const mean34 = [1.49,1.53,1.56,1.60,1.63,1.67,1.70,1.74,1.77,1.81,1.84,1.88,1.91,1.95,1.98,2.02,2.05,2.09,2.12,2.16,2.19,2.23,2.26,2.30,2.33,2.37,2.40,2.44,2.47,2.51,2.54,2.58,2.61,2.65,2.72, 3.02,2.88,2.78,1.45,1.44,2.94,2.82,3.06];
const hits34 = [1,2,2,2,3,3,3,5,5,5,5,6,6,6,6,6,6,6,6,6,6,6,6,6,6,6,5,5,5,3,3,3,2,2,1, 1,1,1,1,1,1,1,1];

const sum35 = [34.8,35.3,34.7,35.2,34.9,35.35,34.65,35.15,34.8,35.3,34.7,35.2,34.9,35.35,34.65,35.15,34.8,35.3,34.7,35.2,34.9,35.35,34.65,35.15,34.8,35.3,34.7,35.2,34.9,35.35,34.65,35.15,34.8,35.3, 34.8,35.2,35.0,34.7,35.5,35.4,34.6,35.3];
const mean35 = [1.50,1.54,1.57,1.61,1.64,1.68,1.71,1.75,1.78,1.82,1.85,1.89,1.92,1.96,1.99,2.03,2.06,2.10,2.13,2.17,2.20,2.24,2.27,2.31,2.34,2.38,2.41,2.45,2.48,2.52,2.55,2.59,2.62,2.69, 2.98,2.85,2.76,1.45,1.41,2.92,2.80,2.72];
const hits35 = [1,2,2,2,3,3,3,5,5,5,5,6,6,6,6,6,6,6,6,6,6,6,6,6,6,5,5,5,5,3,3,2,2,1, 1,1,1,1,1,1,1,1];

const sum36 = [35.8,36.3,35.7,36.2,35.9,36.35,35.65,36.15,35.8,36.3,35.7,36.2,35.9,36.35,35.65,36.15,35.8,36.3,35.7,36.2,35.9,36.35,35.65,36.15,35.8,36.3,35.7,36.2,35.9,36.35,35.65,36.15,35.8, 36.0,35.7,36.3,36.2,36.4,35.6,35.9];
const mean36 = [1.51,1.55,1.58,1.62,1.65,1.69,1.72,1.76,1.79,1.83,1.86,1.90,1.93,1.97,2.00,2.04,2.07,2.11,2.14,2.18,2.21,2.25,2.28,2.32,2.35,2.39,2.42,2.46,2.49,2.53,2.56,2.60,2.67, 2.94,2.80,2.70,1.45,2.86,2.75,2.90];
const hits36 = [1,1,2,2,3,3,3,5,5,5,5,6,6,6,6,6,6,6,6,6,6,6,6,6,6,5,5,5,3,3,2,2,1, 1,1,1,1,1,1,1];

const sum37 = [36.8,37.3,36.7,37.2,36.9,37.35,36.65,37.15,36.8,37.3,36.7,37.2,36.9,37.35,36.65,37.15,36.8,37.3,36.7,37.2,36.9,37.35,36.65,37.15,36.8,37.3,36.7,37.2,36.9,37.35,36.65,37.15, 37.5,36.8,37.2,37.0,37.3,37.4,36.7,37.1];
const mean37 = [1.53,1.56,1.60,1.63,1.67,1.70,1.74,1.77,1.81,1.84,1.88,1.91,1.95,1.98,2.02,2.05,2.09,2.12,2.16,2.19,2.23,2.26,2.30,2.33,2.37,2.40,2.44,2.47,2.51,2.54,2.58,2.65, 2.93,2.82,2.70,1.40,1.47,2.88,2.76,2.96];
const hits37 = [1,1,2,2,3,3,3,5,5,5,5,6,6,6,6,6,6,6,6,6,6,6,6,6,5,5,5,3,3,3,2,1, 1,1,1,1,1,1,1,1];

const sum38 = [37.8,38.3,37.7,38.2,37.9,38.35,37.65,38.15,37.8,38.3,37.7,38.2,37.9,38.35,37.65,38.15,37.8,38.3,37.7,38.2,37.9,38.35,37.65,38.15,37.8,38.3,37.7,38.2,37.9,38.35, 38.2,37.8,37.7,38.2,38.4,38.3,37.6];
const mean38 = [1.57,1.61,1.64,1.68,1.71,1.75,1.78,1.82,1.85,1.89,1.92,1.96,1.99,2.03,2.06,2.10,2.13,2.17,2.20,2.24,2.27,2.31,2.34,2.38,2.41,2.45,2.48,2.52,2.55,2.62, 2.80,2.72,1.53,1.50,2.85,2.68,2.76];
const hits38 = [1,2,2,2,3,3,4,4,4,4,5,5,5,5,5,5,5,5,5,5,5,5,5,4,4,4,3,3,2,1, 1,1,1,1,1,1,1];

const sum39 = [38.8,39.3,38.7,39.2,38.9,39.35,38.65,39.15,38.8,39.3,38.7,39.2,38.9,39.35,38.65,39.15,38.8,39.3,38.7,39.2,38.9,39.35,38.65,39.15,38.8,39.3,38.7,39.2,38.9, 39.0,38.7,39.2,39.3,39.4,38.8];
const mean39 = [1.58,1.62,1.65,1.69,1.72,1.76,1.79,1.83,1.86,1.90,1.93,1.97,2.00,2.04,2.07,2.11,2.14,2.18,2.21,2.25,2.28,2.32,2.35,2.39,2.42,2.46,2.49,2.53,2.60, 2.87,2.70,1.56,2.78,2.64,2.82];
const hits39 = [1,2,2,2,3,3,4,4,4,4,5,5,5,5,5,5,5,5,5,5,5,5,4,4,4,3,3,2,1, 2,1,1,1,1,1];

const sum40 = [39.8,40.3,39.7,40.2,39.9,40.35,39.65,40.15,39.8,40.3,39.7,40.2,39.9,40.35,39.65,40.15,39.8,40.3,39.7,40.2,39.9,40.35,39.65,40.15,39.8,40.3,39.7,40.2, 40.2,39.8,40.3,39.7,40.4,39.9,39.6];
const mean40 = [1.60,1.63,1.67,1.70,1.74,1.77,1.81,1.84,1.88,1.91,1.95,1.98,2.02,2.05,2.09,2.12,2.16,2.19,2.23,2.26,2.30,2.33,2.37,2.40,2.44,2.47,2.51,2.58, 2.80,2.70,2.64,1.58,2.75,2.85,2.68];
const hits40 = [1,1,2,2,3,3,4,4,4,5,5,5,5,5,5,5,5,5,5,5,5,4,4,4,3,3,2,1, 1,1,1,1,1,1,1];

const sum41 = [40.8,41.3,40.7,41.2,40.9,41.35,40.65,41.15,40.8,41.3,40.7,41.2,40.9,41.35,40.65,41.15,40.8,41.3,40.7,41.2,40.9,41.35,40.65,41.15,40.8,41.3,40.7, 41.3,40.8,41.2,40.6,41.5,40.7,41.1];
const mean41 = [1.61,1.64,1.68,1.71,1.75,1.78,1.82,1.85,1.89,1.92,1.96,1.99,2.03,2.06,2.10,2.13,2.17,2.20,2.24,2.27,2.31,2.34,2.38,2.41,2.45,2.48,2.55, 2.82,2.72,2.62,1.55,1.53,2.66,2.76];
const hits41 = [1,1,1,1,2,2,3,3,3,4,4,4,4,4,4,4,4,4,4,4,3,3,3,2,2,1,1, 1,1,1,1,1,1,1];

const sum42 = [41.8,42.3,41.7,42.2,41.9,42.35,41.65,42.15,41.8,42.3,41.7,42.2,41.9,42.35,41.65,42.15,41.8,42.3,41.7,42.2,41.9,42.35,41.65,42.15,41.8,42.3, 42.3,42.5,41.8,42.2,42.4,41.7,42.0];
const mean42 = [1.62,1.65,1.69,1.72,1.76,1.79,1.83,1.86,1.90,1.93,1.97,2.00,2.04,2.07,2.11,2.14,2.18,2.21,2.25,2.28,2.32,2.35,2.39,2.42,2.46,2.53, 2.89,2.85,2.72,2.58,1.61,2.65,2.78];
const hits42 = [1,1,1,2,2,3,3,3,4,4,4,4,4,4,4,4,4,4,4,4,3,3,2,2,1,1, 2,1,1,1,1,1,1];

const sum43 = [42.8,43.3,42.7,43.2,42.9,43.35,42.65,43.15,42.8,43.3,42.7,43.2,42.9,43.35,42.65,43.15,42.8,43.3,42.7,43.2,42.9,43.35,42.65,43.15,42.8, 42.7,43.2,43.0,43.1,43.4,42.6];
const mean43 = [1.63,1.67,1.70,1.74,1.77,1.81,1.84,1.88,1.91,1.95,1.98,2.02,2.05,2.09,2.12,2.16,2.19,2.23,2.26,2.30,2.33,2.37,2.40,2.44,2.51, 2.72,2.62,2.55,1.59,2.66,2.58];
const hits43 = [1,1,1,2,2,3,3,3,4,4,4,4,4,4,4,4,4,4,4,3,3,2,2,1,1, 1,1,1,1,1,1];

const sum44 = [43.8,44.3,43.7,44.2,43.9,44.35,43.65,44.15,43.8,44.3,43.7,44.2,43.9,44.35,43.65,44.15,43.8,44.3,43.7,44.2,43.9,44.35,43.65,44.15, 44.5,44.2,43.8,44.3,43.9,44.1];
const mean44 = [1.64,1.68,1.71,1.75,1.78,1.82,1.85,1.89,1.92,1.96,1.99,2.03,2.06,2.10,2.13,2.17,2.20,2.24,2.27,2.31,2.34,2.38,2.41,2.48, 2.62,2.52,1.61,1.60,2.56,2.66];
const hits44 = [1,1,1,2,3,3,3,3,3,3,3,3,3,3,3,3,3,3,3,3,2,2,1,1, 1,1,1,1,1,1];

const sum45 = [44.8,45.3,44.7,45.2,44.9,45.35,44.65,45.15,44.8,45.3,44.7,45.2,44.9,45.35,44.65,45.15,44.8,45.3,44.7,45.2,44.9,45.35,44.65, 44.8,45.2,44.8,45.3,45.4];
const mean45 = [1.65,1.69,1.72,1.76,1.79,1.83,1.86,1.90,1.93,1.97,2.00,2.04,2.07,2.11,2.14,2.18,2.21,2.25,2.28,2.32,2.35,2.39,2.46, 2.60,2.50,1.61,1.62,2.55];
const hits45 = [1,1,2,2,3,3,3,3,3,3,3,3,3,3,3,3,3,3,3,2,2,1,1, 1,1,1,1,1];

const sum46 = [45.8,46.3,45.7,46.2,45.8,46.3,45.7,46.2,45.8,46.3,45.7,46.2,45.8,46.3,45.7,46.2, 46.4,45.8,46.1];
const mean46 = [1.62,1.66,1.71,1.75,1.80,1.84,1.89,1.93,1.98,2.02,2.07,2.11,2.16,2.20,2.25,2.29, 2.46,2.40,2.34];
const hits46 = [1,2,2,2,3,3,3,3,3,3,3,2,2,2,1,1, 1,1,1];

const sum47 = [46.8,47.3,46.7,47.2,46.8,47.3,46.7,47.2,46.8,47.3,46.7,47.2,46.8,47.3,46.7,47.2, 47.3,46.8,47.1];
const mean47 = [1.58,1.63,1.68,1.72,1.77,1.81,1.86,1.90,1.95,1.99,2.04,2.08,2.13,2.17,2.22,2.26, 2.38,2.44,2.32];
const hits47 = [1,1,2,2,2,3,3,3,3,2,2,2,2,1,1,1, 1,1,1];

const sum48 = [48.5,48.7,48.1,48.5,48.5,48.7,47.8,48.2,47.7,48.2,47.8,48.3,48.0,48.2, 47.8,48.2];
const mean48 = [1.61,1.75,1.82,1.91,2.18,2.29,1.66,1.72,1.87,1.98,2.03,2.08,2.13,2.24, 2.44,2.35];
const hits48 = [1,2,2,2,1,1,2,2,2,2,2,1,1,1, 1,1];

const sum49 = [49.3,49.4,49.6,49.4,49.3,49.7,49.9,49.6,49.1,48.9,49.2,48.8,49.1,48.9,49.5,49.0];
const mean49 = [1.79,1.96,2.06,2.19,2.31,2.37,1.63,1.66,1.61,1.70,1.88,2.02,2.12,2.26,1.72,1.93];
const hits49 = [1,1,1,1,1,1,1,1,1,1,2,1,1,1,1,1];

const sum50 = [50.4,50.6,50.4,50.6,50.1,50.1,50.0,50.3,50.2,50.5,49.9,50.3,50.0,50.5];
const mean50 = [2.38,2.12,2.00,1.79,1.72,1.61,1.87,2.25,1.93,1.66,2.30,1.83,2.17,2.05];
const hits50 = [1,1,1,1,1,1,1,1,1,1,1,1,1,1];

const sum51 = [51.4,51.2,50.8,51.0,51.0,51.3,51.1,50.9,51.4,51.2,50.8,51.4];
const mean51 = [2.37,2.27,2.25,1.87,1.61,1.74,2.05,1.95,2.15,1.67,1.79,1.92];
const hits51 = [1,1,1,1,1,1,1,1,1,1,1,1];

const sum52 = [51.9,52.0,52.0,51.7,51.9,52.0,51.8,51.7,51.7,51.8,51.6,51.9,51.6];
const mean52 = [2.37,2.31,2.29,2.18,1.98,1.87,1.72,1.68,1.62,2.08,1.80,1.93,2.24];
const hits52 = [1,1,1,1,1,1,1,1,1,1,1,1,1];

// Smoothed trend (loess fit) read along its path
const smoothSum = [1,3,5,7,9,11,13,15,17,19,21,23,25,27,29,31,33,35,37,39,41,43,45,47,48];
const smoothMean = [1.29,1.33,1.38,1.45,1.54,1.65,1.75,1.84,1.91,1.98,2.05,2.09,2.11,2.11,2.11,2.12,2.13,2.15,2.17,2.18,2.17,2.13,2.07,2.02,1.99];

const groups = [
  [sumLeft, meanLeft, hitsLeft], [sum0, mean0, hits0], [sum1, mean1, hits1], [sum2, mean2, hits2],
  [sum3, mean3, hits3], [sum4, mean4, hits4], [sum5, mean5, hits5], [sum6, mean6, hits6],
  [sum7, mean7, hits7], [sum8, mean8, hits8], [sum9, mean9, hits9], [sum10, mean10, hits10],
  [sum11, mean11, hits11], [sum12, mean12, hits12], [sum13, mean13, hits13], [sum14, mean14, hits14],
  [sum15, mean15, hits15], [sum16, mean16, hits16], [sum17, mean17, hits17], [sum18, mean18, hits18],
  [sum19, mean19, hits19], [sum20, mean20, hits20], [sum21, mean21, hits21], [sum22, mean22, hits22],
  [sum23, mean23, hits23], [sum24, mean24, hits24], [sum25, mean25, hits25], [sum26, mean26, hits26],
  [sum27, mean27, hits27], [sum28, mean28, hits28], [sum29, mean29, hits29], [sum30, mean30, hits30],
  [sum31, mean31, hits31], [sum32, mean32, hits32], [sum33, mean33, hits33], [sum34, mean34, hits34],
  [sum35, mean35, hits35], [sum36, mean36, hits36], [sum37, mean37, hits37], [sum38, mean38, hits38],
  [sum39, mean39, hits39], [sum40, mean40, hits40], [sum41, mean41, hits41], [sum42, mean42, hits42],
  [sum43, mean43, hits43], [sum44, mean44, hits44], [sum45, mean45, hits45], [sum46, mean46, hits46],
  [sum47, mean47, hits47], [sum48, mean48, hits48], [sum49, mean49, hits49], [sum50, mean50, hits50],
  [sum51, mean51, hits51], [sum52, mean52, hits52]
];

// Each respondent is drawn at alpha 0.13; stacked respondents darken the spot.
const POINT_ALPHA = 0.13;
const px = [], py = [], pAlpha = [];
groups.forEach(([s, m, h]) => {
  const n = Math.min(s.length, m.length);
  for (let i = 0; i < n; i++) {
    px.push(s[i]);
    py.push(m[i]);
    const k = h[i] || 1;
    pAlpha.push(1 - Math.pow(1 - POINT_ALPHA, k));
  }
});

const points = {
  type: 'scatter',
  mode: 'markers',
  x: px,
  y: py,
  marker: { color: '#000000', size: 11.5, opacity: pAlpha, line: { width: 0 } },
  hoverinfo: 'skip',
  showlegend: false
};

const trend = {
  type: 'scatter',
  mode: 'lines',
  x: smoothSum,
  y: smoothMean,
  line: { color: '#3366FF', width: 5, shape: 'spline', smoothing: 1 },
  hoverinfo: 'skip',
  showlegend: false
};

const tickFont = { family: '"Liberation Sans", Arial, sans-serif', size: 23, color: '#4d4d4d' };
const titleFont = { family: '"Liberation Sans", Arial, sans-serif', size: 28.8, color: '#000000' };

const layout = {
  width: 1227,
  height: 651,
  margin: { l: 75, r: 2, t: 5, b: 76 },
  paper_bgcolor: '#ffffff',
  plot_bgcolor: '#ffffff',
  showlegend: false,
  xaxis: {
    range: [-6.82, 54.48],
    tickvals: [0, 10, 20, 30, 40, 50],
    ticktext: ['0', '10', '20', '30', '40', '50'],
    ticks: 'outside', ticklen: 7, tickwidth: 2.2, tickcolor: '#333333',
    showline: true, linecolor: '#222222', linewidth: 2.2,
    showgrid: false, zeroline: false,
    tickfont: tickFont,
    title: { text: 'Challenge Item Sum', font: titleFont, standoff: 6 },
    automargin: false
  },
  yaxis: {
    range: [0.468, 3.532],
    tickvals: [1, 2, 3],
    ticktext: ['1', '2', '3'],
    ticks: 'outside', ticklen: 7, tickwidth: 2.2, tickcolor: '#333333',
    showline: true, linecolor: '#222222', linewidth: 2.2,
    showgrid: false, zeroline: false,
    tickfont: tickFont,
    title: { text: 'Mean Challenge', font: titleFont, standoff: 6 },
    automargin: false
  }
};

Plotly.newPlot('chart', [points, trend], layout, { displayModeBar: false, staticPlot: true });
</script>
</body>
</html>
